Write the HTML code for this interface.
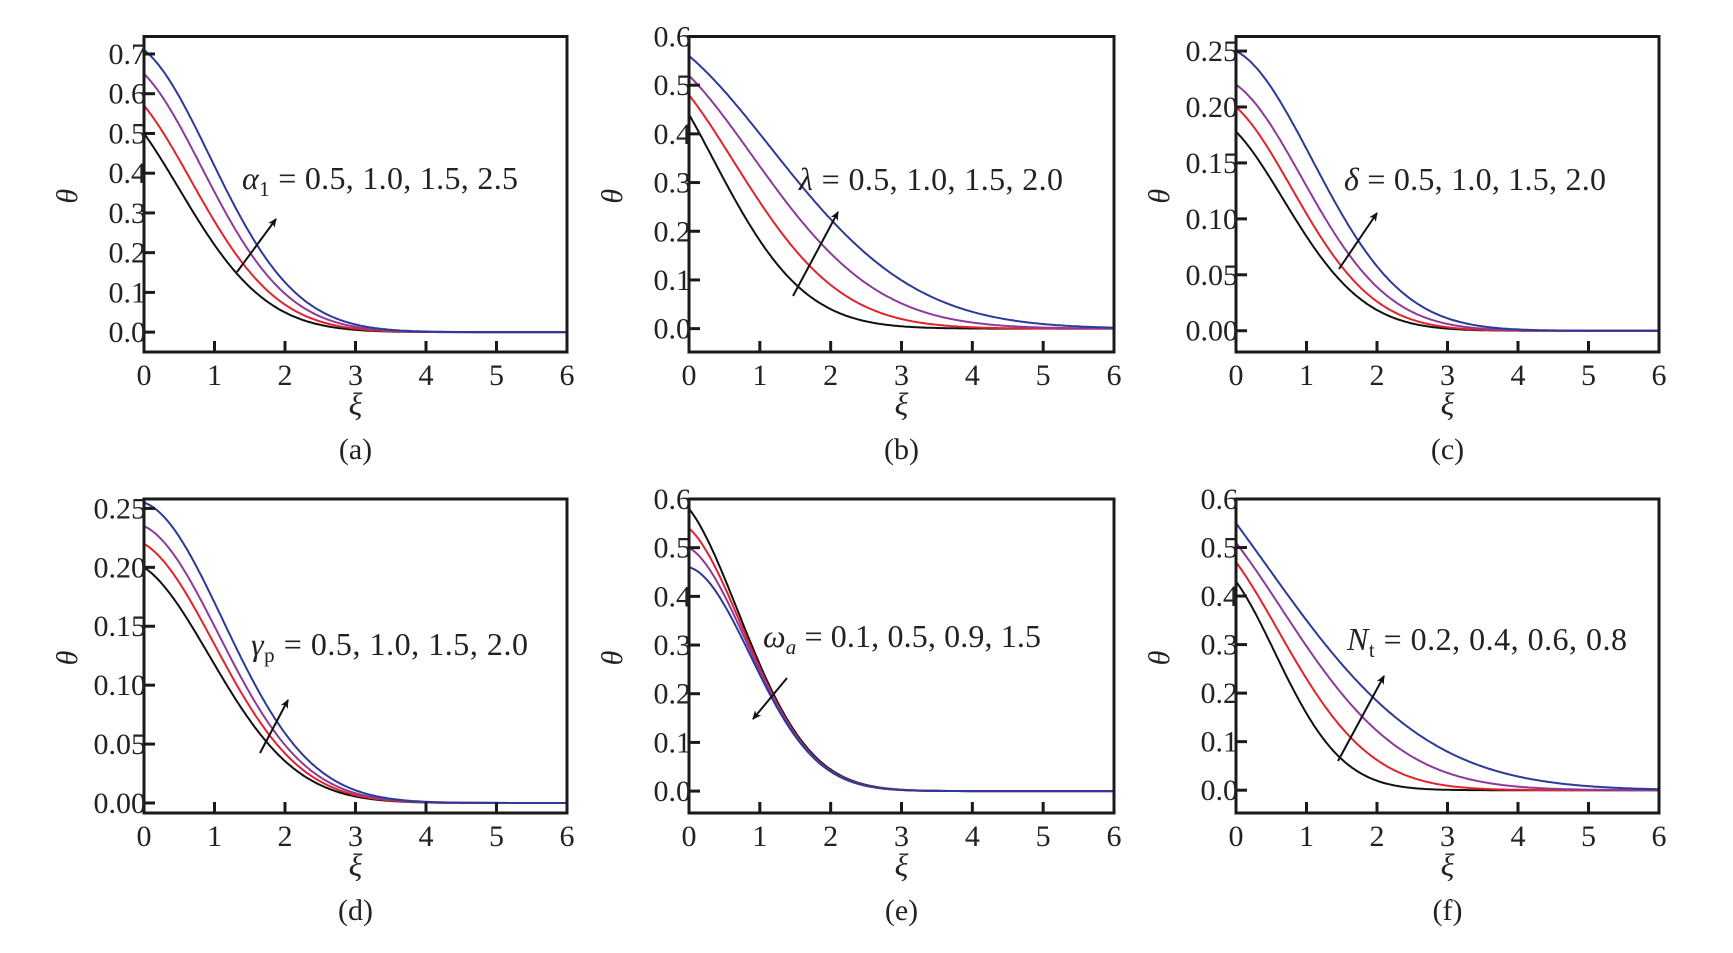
<!DOCTYPE html>
<html><head><meta charset="utf-8">
<style>
html,body{margin:0;padding:0;background:#fff;}
svg{display:block;}
text{font-family:"Liberation Serif","DejaVu Serif",serif;fill:#222;}
</style></head>
<body>
<svg id="s" width="1733" height="953" viewBox="0 0 1733 953" xmlns="http://www.w3.org/2000/svg">
<defs><marker id="ah" markerWidth="10" markerHeight="10" refX="8" refY="5" orient="auto" markerUnits="userSpaceOnUse"><path d="M0,1 L9,5 L0,9 L2.5,5 Z" fill="#111"/></marker></defs>
</svg>
<script>
const S=document.getElementById('s');
const NS='http://www.w3.org/2000/svg';
function el(t,a,txt){const e=document.createElementNS(NS,t);for(const k in a)e.setAttribute(k,a[k]);if(txt!==undefined)e.textContent=txt;S.appendChild(e);return e;}
const cols=['#111111','#e3232b','#8e3a9c','#2c3a98'];
const panels=[
 {x0:144,x1:567,y0:36.5,y1:352,ymin:-0.05,ymax:0.744,ticks:[0,0.1,0.2,0.3,0.4,0.5,0.6,0.7],dec:1,
  c:[[0.50,1.14,1.49],[0.57,1.24,1.56],[0.65,1.35,1.64],[0.71,1.45,1.71]],
  lab:['α','1',' = 0.5, 1.0, 1.5, 2.5'],tx:242,ty:189,tw:276,ar:[237,272,276,219],cap:'(a)'},
 {x0:689,x1:1114,y0:36.5,y1:352,ymin:-0.048,ymax:0.6,ticks:[0,0.1,0.2,0.3,0.4,0.5,0.6],dec:1,
  c:[[0.44,1.085,1.43],[0.48,1.4,1.45],[0.52,1.75,1.45],[0.56,2.13,1.44]],
  lab:['λ','',' = 0.5, 1.0, 1.5, 2.0'],tx:799,ty:190,tw:264,ar:[793,296,838,212],cap:'(b)'},
 {x0:1236,x1:1659,y0:36.5,y1:352,ymin:-0.019,ymax:0.263,ticks:[0,0.05,0.1,0.15,0.2,0.25],dec:2,
  c:[[0.178,1.2,1.6],[0.20,1.3,1.65],[0.22,1.45,1.7],[0.25,1.61,1.77]],
  lab:['δ','',' = 0.5, 1.0, 1.5, 2.0'],tx:1344,ty:190,tw:262,ar:[1339,269,1377,213],cap:'(c)'},
 {x0:144,x1:567,y0:499,y1:813,ymin:-0.0085,ymax:0.258,ticks:[0,0.05,0.1,0.15,0.2,0.25],dec:2,
  c:[[0.20,1.45,1.7],[0.22,1.5,1.75],[0.235,1.56,1.8],[0.255,1.63,1.85]],
  lab:['γ','p',' = 0.5, 1.0, 1.5, 2.0'],tx:251,ty:655,tw:277,ar:[260,753,288,700],cap:'(d)'},
 {x0:689,x1:1114,y0:499,y1:813,ymin:-0.045,ymax:0.6,ticks:[0,0.1,0.2,0.3,0.4,0.5,0.6],dec:1,
  c:[[0.58,1.14,1.68],[0.54,1.17,1.75],[0.50,1.21,1.82],[0.46,1.25,1.9]],
  lab:['ω','a',' = 0.1, 0.5, 0.9, 1.5'],tx:763,ty:647,tw:278,ar:[787,678,753,719],cap:'(e)'},
 {x0:1236,x1:1659,y0:499,y1:813,ymin:-0.047,ymax:0.6,ticks:[0,0.1,0.2,0.3,0.4,0.5,0.6],dec:1,
  c:[[0.43,1.0,1.63],[0.47,1.25,1.5],[0.51,1.55,1.4],[0.55,1.86,1.28]],
  lab:['N','t',' = 0.2, 0.4, 0.6, 0.8'],tx:1347,ty:650,tw:280,ar:[1338,761,1384,676],cap:'(f)'}
];
panels.forEach((p,i)=>{
 const X=v=>p.x0+(p.x1-p.x0)*v/6, Y=v=>p.y1-(p.y1-p.y0)*(v-p.ymin)/(p.ymax-p.ymin);
 p.c.forEach((c,k)=>{
  const L1=Math.pow(1/c[1],c[2]), L2=Math.pow(2/c[1],c[2]);
  let b=(L2-2*L1)/2, a=L1-b; if(a<0){a=0;b=L1;}
  let d='';for(let j=0;j<=240;j++){const xi=6*j/240;const th=c[0]*Math.exp(-(a*xi+b*xi*xi));d+=(j?'L':'M')+X(xi).toFixed(1)+','+Y(th).toFixed(1);}
  el('path',{d:d,fill:'none',stroke:cols[k],'stroke-width':2});
 });
 el('rect',{x:p.x0,y:p.y0,width:p.x1-p.x0,height:p.y1-p.y0,fill:'none',stroke:'#1a1a1a','stroke-width':3});
 p.ticks.forEach(t=>{const y=Y(t);el('line',{x1:p.x0,y1:y,x2:p.x0+11,y2:y,stroke:'#1a1a1a','stroke-width':3});
  el('text',{x:p.x0+2,y:y+10,'font-size':30,'text-anchor':'end'},t.toFixed(p.dec));});
 for(let t=0;t<=6;t++){const x=X(t);if(t>0&&t<6)el('line',{x1:x,y1:p.y1,x2:x,y2:p.y1-11,stroke:'#1a1a1a','stroke-width':3});
  el('text',{x:x,y:p.y1+33,'font-size':30,'text-anchor':'middle'},String(t));}
 const cx=(p.x0+p.x1)/2;
 el('text',{x:cx,y:p.y1+63,'font-size':32,'font-style':'italic','text-anchor':'middle'},'ξ');
 el('text',{x:cx,y:p.y1+107,'font-size':30,'text-anchor':'middle'},p.cap);
 const ty=(p.y0+p.y1)/2+2;const lx=p.x0-67;
 el('text',{x:lx,y:ty,'font-size':30,'font-style':'italic','text-anchor':'middle',transform:`rotate(-90 ${lx} ${ty})`},'θ');
 const t=el('text',{x:p.tx,y:p.ty,'font-size':32,textLength:p.tw,lengthAdjust:'spacing'});
 const a=document.createElementNS(NS,'tspan');a.setAttribute('font-style','italic');a.textContent=p.lab[0];t.appendChild(a);
 if(p.lab[1]){const b=document.createElementNS(NS,'tspan');b.setAttribute('font-size','21');b.setAttribute('dy','7');if(i==4)b.setAttribute('font-style','italic');b.textContent=p.lab[1];t.appendChild(b);}
 const r=document.createElementNS(NS,'tspan');if(p.lab[1])r.setAttribute('dy','-7');r.textContent=p.lab[2];t.appendChild(r);
 const ar=p.ar;el('line',{x1:ar[0],y1:ar[1],x2:ar[2],y2:ar[3],stroke:'#111','stroke-width':2,'marker-end':'url(#ah)'});
});
</script>
</body></html>
